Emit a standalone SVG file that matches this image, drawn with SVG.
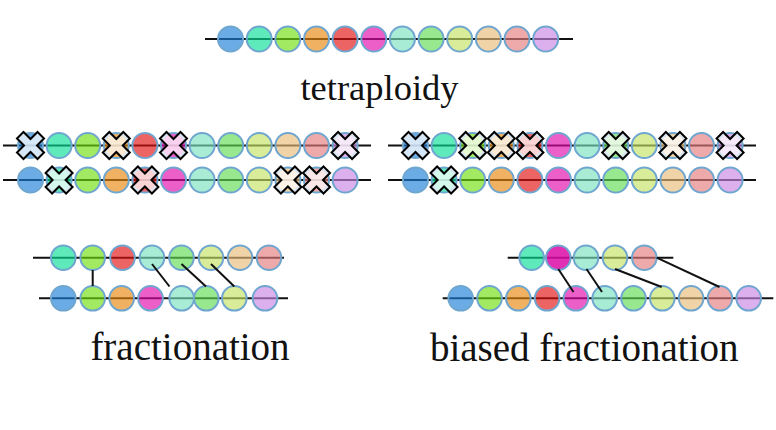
<svg xmlns="http://www.w3.org/2000/svg" xmlns:xlink="http://www.w3.org/1999/xlink" width="776" height="430" viewBox="0 0 776 430">
<style>
.chr{stroke:#111;stroke-width:2}
circle{stroke:#6fa6cf;stroke-width:2;fill-opacity:0.65}
.b{fill:#1d80d9}.t{fill:#08df95}.g{fill:#70df0e}.o{fill:#e8890e}.r{fill:#e21111}.m{fill:#e208ab}
.lt{fill:#7ae2c0}.lg{fill:#61dc55}.y{fill:#c3e264}.p{fill:#e8bd7a}.k{fill:#e57d7d}.v{fill:#ca86e2}
.dm{fill:#dd0ca7;fill-opacity:0.85}
.xm{fill:#fff;fill-opacity:0.72;stroke:#000;stroke-width:2;stroke-linejoin:miter}
.lbl{font-family:"Liberation Serif","Times New Roman",serif;fill:#111;text-anchor:middle}
.con line{stroke:#111;stroke-width:2}
</style>
<defs>
<path id="x" class="xm" d="M-13.5,-7 L-7,-13.5 L0,-6.5 L7,-13.5 L13.5,-7 L6.5,0 L13.5,7 L7,13.5 L0,6.5 L-7,13.5 L-13.5,7 L-6.5,0 Z"/>
</defs>
<rect width="776" height="430" fill="#fff"/>

<g id="tetraploid-genome">
<line class="chr" x1="205" y1="39" x2="573" y2="39"/>
<circle class="b" cx="230.5" cy="39" r="12.5"/>
<circle class="t" cx="259.2" cy="39" r="12.5"/>
<circle class="g" cx="287.8" cy="39" r="12.5"/>
<circle class="o" cx="316.5" cy="39" r="12.5"/>
<circle class="r" cx="345.1" cy="39" r="12.5"/>
<circle class="m" cx="373.8" cy="39" r="12.5"/>
<circle class="lt" cx="402.4" cy="39" r="12.5"/>
<circle class="lg" cx="431.1" cy="39" r="12.5"/>
<circle class="y" cx="459.7" cy="39" r="12.5"/>
<circle class="p" cx="488.4" cy="39" r="12.5"/>
<circle class="k" cx="517" cy="39" r="12.5"/>
<circle class="v" cx="545.7" cy="39" r="12.5"/>
</g>
<g id="label-tetraploidy"><text class="lbl" x="379.5" y="99.5" font-size="36.5">tetraploidy</text></g>

<g id="left-copy-a">
<line class="chr" x1="3" y1="145.5" x2="371" y2="145.5"/>
<circle class="b" cx="30.5" cy="145.5" r="12.5"/>
<circle class="t" cx="59.1" cy="145.5" r="12.5"/>
<circle class="g" cx="87.7" cy="145.5" r="12.5"/>
<circle class="o" cx="116.3" cy="145.5" r="12.5"/>
<circle class="r" cx="144.9" cy="145.5" r="12.5"/>
<circle class="m" cx="173.5" cy="145.5" r="12.5"/>
<circle class="lt" cx="202.1" cy="145.5" r="12.5"/>
<circle class="lg" cx="230.7" cy="145.5" r="12.5"/>
<circle class="y" cx="259.3" cy="145.5" r="12.5"/>
<circle class="p" cx="287.9" cy="145.5" r="12.5"/>
<circle class="k" cx="316.5" cy="145.5" r="12.5"/>
<circle class="v" cx="345.1" cy="145.5" r="12.5"/>
<use href="#x" xlink:href="#x" x="30.5" y="145.5"/>
<use href="#x" xlink:href="#x" x="116.3" y="145.5"/>
<use href="#x" xlink:href="#x" x="173.5" y="145.5"/>
<use href="#x" xlink:href="#x" x="345.1" y="145.5"/>
</g>
<g id="left-copy-b">
<line class="chr" x1="3" y1="180" x2="371" y2="180"/>
<circle class="b" cx="30.5" cy="180" r="12.5"/>
<circle class="t" cx="59.1" cy="180" r="12.5"/>
<circle class="g" cx="87.7" cy="180" r="12.5"/>
<circle class="o" cx="116.3" cy="180" r="12.5"/>
<circle class="r" cx="144.9" cy="180" r="12.5"/>
<circle class="m" cx="173.5" cy="180" r="12.5"/>
<circle class="lt" cx="202.1" cy="180" r="12.5"/>
<circle class="lg" cx="230.7" cy="180" r="12.5"/>
<circle class="y" cx="259.3" cy="180" r="12.5"/>
<circle class="p" cx="287.9" cy="180" r="12.5"/>
<circle class="k" cx="316.5" cy="180" r="12.5"/>
<circle class="v" cx="345.1" cy="180" r="12.5"/>
<use href="#x" xlink:href="#x" x="59.1" y="180"/>
<use href="#x" xlink:href="#x" x="144.9" y="180"/>
<use href="#x" xlink:href="#x" x="287.9" y="180"/>
<use href="#x" xlink:href="#x" x="316.5" y="180"/>
</g>

<g id="right-copy-a">
<line class="chr" x1="388" y1="145.5" x2="756" y2="145.5"/>
<circle class="b" cx="415.5" cy="145.5" r="12.5"/>
<circle class="t" cx="444.1" cy="145.5" r="12.5"/>
<circle class="g" cx="472.7" cy="145.5" r="12.5"/>
<circle class="o" cx="501.3" cy="145.5" r="12.5"/>
<circle class="r" cx="529.9" cy="145.5" r="12.5"/>
<circle class="m" cx="558.5" cy="145.5" r="12.5"/>
<circle class="lt" cx="587.1" cy="145.5" r="12.5"/>
<circle class="lg" cx="615.7" cy="145.5" r="12.5"/>
<circle class="y" cx="644.3" cy="145.5" r="12.5"/>
<circle class="p" cx="672.9" cy="145.5" r="12.5"/>
<circle class="k" cx="701.5" cy="145.5" r="12.5"/>
<circle class="v" cx="730.1" cy="145.5" r="12.5"/>
<use href="#x" xlink:href="#x" x="415.5" y="145.5"/>
<use href="#x" xlink:href="#x" x="472.7" y="145.5"/>
<use href="#x" xlink:href="#x" x="501.3" y="145.5"/>
<use href="#x" xlink:href="#x" x="529.9" y="145.5"/>
<use href="#x" xlink:href="#x" x="615.7" y="145.5"/>
<use href="#x" xlink:href="#x" x="672.9" y="145.5"/>
<use href="#x" xlink:href="#x" x="730.1" y="145.5"/>
</g>
<g id="right-copy-b">
<line class="chr" x1="388" y1="180" x2="756" y2="180"/>
<circle class="b" cx="415.5" cy="180" r="12.5"/>
<circle class="t" cx="444.1" cy="180" r="12.5"/>
<circle class="g" cx="472.7" cy="180" r="12.5"/>
<circle class="o" cx="501.3" cy="180" r="12.5"/>
<circle class="r" cx="529.9" cy="180" r="12.5"/>
<circle class="m" cx="558.5" cy="180" r="12.5"/>
<circle class="lt" cx="587.1" cy="180" r="12.5"/>
<circle class="lg" cx="615.7" cy="180" r="12.5"/>
<circle class="y" cx="644.3" cy="180" r="12.5"/>
<circle class="p" cx="672.9" cy="180" r="12.5"/>
<circle class="k" cx="701.5" cy="180" r="12.5"/>
<circle class="v" cx="730.1" cy="180" r="12.5"/>
<use href="#x" xlink:href="#x" x="444.1" y="180"/>
</g>

<g id="fractionation-top">
<line class="chr" x1="33" y1="257.7" x2="284" y2="257.7"/>
<circle class="t" cx="63.3" cy="257.7" r="12.3"/>
<circle class="g" cx="92.7" cy="257.7" r="12.3"/>
<circle class="r" cx="122.5" cy="257.7" r="12.3"/>
<circle class="lt" cx="152" cy="257.7" r="12.3"/>
<circle class="lg" cx="181.5" cy="257.7" r="12.3"/>
<circle class="y" cx="211" cy="257.7" r="12.3"/>
<circle class="p" cx="240" cy="257.7" r="12.3"/>
<circle class="k" cx="269" cy="257.7" r="12.3"/>
</g>
<g id="fractionation-bottom">
<line class="chr" x1="39" y1="298.3" x2="288" y2="298.3"/>
<circle class="b" cx="63.3" cy="298.3" r="12.3"/>
<circle class="g" cx="92.7" cy="298.3" r="12.3"/>
<circle class="o" cx="121.7" cy="298.3" r="12.3"/>
<circle class="m" cx="150.5" cy="298.3" r="12.3"/>
<circle class="lt" cx="181.7" cy="298.3" r="12.3"/>
<circle class="lg" cx="206.3" cy="298.3" r="12.3"/>
<circle class="y" cx="234.3" cy="298.3" r="12.3"/>
<circle class="v" cx="265" cy="298.3" r="12.3"/>
</g>

<g id="biased-top">
<line class="chr" x1="507.7" y1="257.7" x2="673.3" y2="257.7"/>
<circle class="t" cx="531.7" cy="257.7" r="12.3"/>
<circle class="dm" cx="558.3" cy="257.7" r="12.3"/>
<circle class="lt" cx="586" cy="257.7" r="12.3"/>
<circle class="y" cx="615" cy="257.7" r="12.3"/>
<circle class="k" cx="644.3" cy="257.7" r="12.3"/>
</g>
<g id="biased-bottom">
<line class="chr" x1="442.7" y1="298.3" x2="773.3" y2="298.3"/>
<circle class="b" cx="460.7" cy="298.3" r="12.3"/>
<circle class="g" cx="489.5" cy="298.3" r="12.3"/>
<circle class="o" cx="518.3" cy="298.3" r="12.3"/>
<circle class="r" cx="547.1" cy="298.3" r="12.3"/>
<circle class="m" cx="575.9" cy="298.3" r="12.3"/>
<circle class="lt" cx="604.7" cy="298.3" r="12.3"/>
<circle class="lg" cx="633.5" cy="298.3" r="12.3"/>
<circle class="y" cx="662.3" cy="298.3" r="12.3"/>
<circle class="p" cx="691.1" cy="298.3" r="12.3"/>
<circle class="k" cx="719.9" cy="298.3" r="12.3"/>
<circle class="v" cx="748.7" cy="298.3" r="12.3"/>
</g>

<g id="connectors" class="con">
<line x1="92.7" y1="270" x2="92.7" y2="286"/>
<line x1="152" y1="264" x2="169.5" y2="286.5"/>
<line x1="181.5" y1="264" x2="206" y2="286.5"/>
<line x1="211" y1="264" x2="234.3" y2="286.5"/>
<line x1="558.3" y1="269" x2="573.5" y2="292"/>
<line x1="586.5" y1="269" x2="602" y2="292"/>
<line x1="615" y1="269" x2="661.7" y2="287"/>
<line x1="656.6" y1="257.7" x2="719.5" y2="287"/>
</g>

<g id="label-fractionation"><text class="lbl" x="190" y="360" font-size="39">fractionation</text></g>
<g id="label-biased"><text class="lbl" x="584.2" y="361" font-size="39">biased fractionation</text></g>
</svg>
